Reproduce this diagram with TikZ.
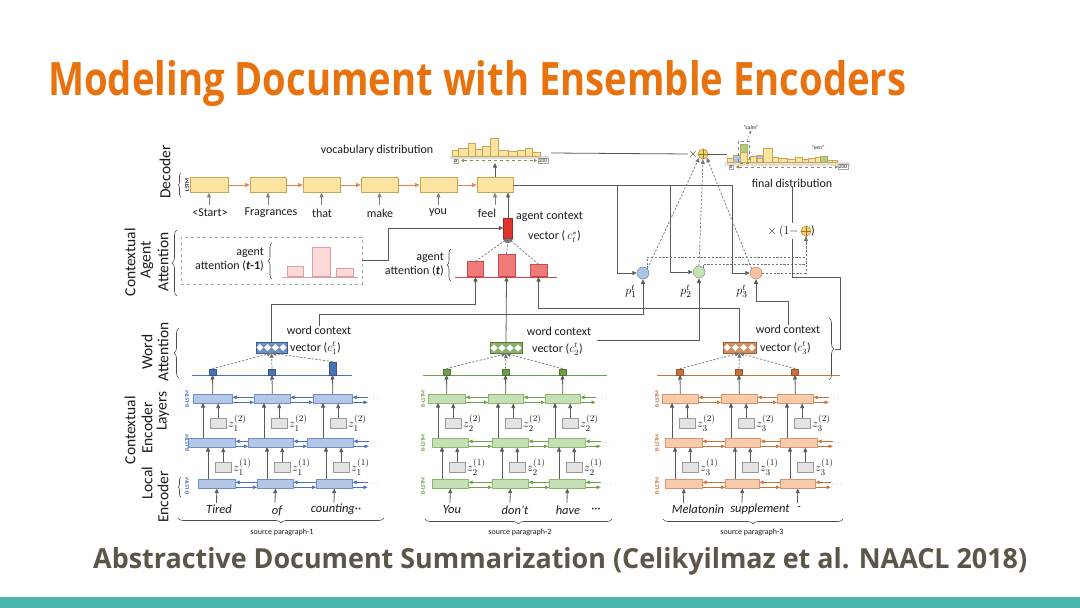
\documentclass[tikz,border=0pt]{standalone}
\usepackage{fontspec}
\setmainfont{Carlito}
\newfontfamily\titlefont{Open Sans}
\usetikzlibrary{arrows.meta,decorations.pathreplacing}
\definecolor{bfill}{HTML}{B4C7E7}\definecolor{bdark}{HTML}{4A72B8}\definecolor{bbord}{HTML}{6F8FC9}
\definecolor{gfill}{HTML}{C5E0B4}\definecolor{gdark}{HTML}{6E9E48}\definecolor{gbord}{HTML}{8DB86E}
\definecolor{ofill}{HTML}{F8CBAD}\definecolor{odark}{HTML}{C8733A}\definecolor{obord}{HTML}{D8956A}
\definecolor{yfill}{HTML}{FBE3A0}\definecolor{ybord}{HTML}{C9A550}\definecolor{plusy}{HTML}{F6D46A}
\definecolor{decor}{HTML}{E58547}
\definecolor{rbar}{HTML}{EE7A7A}\definecolor{rbord}{HTML}{C94A4A}
\definecolor{pbar}{HTML}{FBD9D9}\definecolor{pbord}{HTML}{D9A3A3}
\definecolor{agred}{HTML}{E0352E}
\definecolor{ln}{HTML}{5A5A5A}\definecolor{txt}{HTML}{1C1C1C}
\definecolor{titleor}{HTML}{E8730E}\definecolor{subcol}{HTML}{5B5647}\definecolor{tealbar}{HTML}{4DB6AC}
\definecolor{pblue}{HTML}{A9C4E8}\definecolor{pgreen}{HTML}{C5E0B4}\definecolor{porange}{HTML}{F8C3A3}
\definecolor{hblue}{HTML}{A9C4E8}\definecolor{hgreen}{HTML}{A8D08D}
\tikzset{
  conn/.style={draw=ln, line width=0.8pt},
  arr/.style={-{Triangle[length=4.5pt,width=4pt]}},
  dconn/.style={draw=ln!85, line width=0.7pt, dash pattern=on 2.2pt off 1.6pt},
  lstm/.style={draw=#1bord, fill=#1fill, line width=0.6pt, inner sep=0pt, minimum height=9, anchor=north west},
  zbox/.style={draw=gray!80, fill=gray!22, line width=0.5pt, inner sep=0pt, minimum width=16, minimum height=10, anchor=north west},
  zlab/.style={anchor=west, inner sep=0pt, font=\fontsize{13}{13}\selectfont, text=txt},
  sqr/.style={draw=#1dark!75!black, fill=#1dark, inner sep=0pt, minimum width=7, anchor=south},
  harr/.style={draw=#1dark, line width=0.7pt, -{Triangle[length=4pt,width=3.5pt]}},
  dotsn/.style={text=gray, font=\fontsize{7}{7}\selectfont, inner sep=0pt},
  blab/.style={rotate=90, text=#1dark, font=\fontsize{5.5}{6}\selectfont\bfseries, inner sep=0pt},
  lab/.style={rotate=90, font=\fontsize{15.5}{16}\selectfont, text=txt, inner sep=0pt},
  txtn/.style={font=\fontsize{12}{14}\selectfont, text=txt, inner sep=0pt},
  wordn/.style={font=\fontsize{12.5}{14}\selectfont\itshape, text=txt, inner sep=0pt},
  srcn/.style={font=\fontsize{8}{9}\selectfont, text=txt, inner sep=0pt},
  dec/.style={draw=ybord, fill=yfill, line width=0.6pt, inner sep=0pt, minimum height=15},
  decarrow/.style={draw=decor, line width=0.8pt, -{Triangle[length=4.5pt,width=4pt]}},
  brc/.style={decorate, decoration={brace, amplitude=#1}, draw=txt!80, line width=0.6pt},
  pcir/.style={circle, draw=#1!70!black, fill=#1, line width=0.5pt, minimum size=12, inner sep=0pt},
  plusc/.style={circle, draw=ybord!90!black, fill=plusy, minimum size=10, inner sep=0pt, line width=0.6pt},
  hbar/.style={draw=ybord, fill=yfill, line width=0.5pt},
  abar/.style={draw=rbord, fill=rbar, line width=0.6pt, inner sep=0pt, anchor=south},
  pbarn/.style={draw=pbord, fill=pbar, line width=0.6pt, inner sep=0pt, anchor=south},
  tinyn/.style={font=\fontsize{5.5}{6}\selectfont, text=txt, inner sep=0.6pt},
}
\newcommand{\vecicon}[5]{%
  \node[draw=#2dark!80!black, fill=#2dark!80, minimum width=#5, minimum height=11, inner sep=0pt] (#1) at (#3,#4) {};
  \foreach \ii in {1,...,4} {\fill[white] ({#3-#5/2+#5*(\ii-0.5)/4},#4) +(0,-3.6) -- +(3.6,0) -- +(0,3.6) -- +(-3.6,0) -- cycle;}
}
\newcommand{\encblock}[6]{%
  \draw[draw=#2dark, line width=0.7pt] (#4,375) -- (#5,375);
  \foreach \txl/\txr/\mxl/\mxr/\bxl/\bxr/\hh [count=\cc] in {#3} {
    \node[lstm=#2, minimum width={\txr-\txl}] (e#1T\cc) at (\txl,394) {};
    \node[lstm=#2, minimum width={\mxr-\mxl}] (e#1M\cc) at (\mxl,438) {};
    \node[lstm=#2, minimum width={\bxr-\bxl}] (e#1B\cc) at (\bxl,479) {};
    \node[zbox] (z#1a\cc) at ({\bxl+17},462) {};
    \node[zbox] (z#1b\cc) at ({\txl+17},418) {};
    \node[zlab] at ({\bxl+35},467) {$z_{#1}^{(1)}$};
    \node[zlab] at ({\txl+35},423) {$z_{#1}^{(2)}$};
    \node[sqr=#2, minimum height=\hh] (s#1\cc) at ({(\txl+\txr)/2},375) {};
    \draw[conn,arr] ({(\bxl+\bxr)/2},503) -- (e#1B\cc.south);
    \draw[conn,arr] ({\bxl+10},479) -- ({\bxl+10},447);
    \draw[conn,arr] (z#1a\cc.north) -- (z#1a\cc.north |- e#1M\cc.south);
    \draw[conn,arr] ({\txl+10},438) -- ({\txl+10},403);
    \draw[conn,arr] (z#1b\cc.north) -- (z#1b\cc.north |- e#1T\cc.south);
    \draw[conn,arr] (e#1T\cc.north) -- (s#1\cc.south);
    \draw[dconn,arr] (s#1\cc.north) -- (v#1.south);
  }
  \foreach \rw in {T,M,B} {
    \foreach \ca/\nn in {1/2,2/3} {
      \draw[harr=#2] ([yshift=1.5pt]e#1\rw\nn.west) -- ([yshift=1.5pt]e#1\rw\ca.east);
      \draw[harr=#2] ([yshift=-3.5pt]e#1\rw\ca.east) -- ([yshift=-3.5pt]e#1\rw\nn.west);
    }
    \draw[harr=#2] ([xshift=15pt,yshift=1.5pt]e#1\rw3.east) -- ([yshift=1.5pt]e#1\rw3.east);
    \draw[harr=#2] ([yshift=-3.5pt]e#1\rw3.east) -- ([xshift=15pt,yshift=-3.5pt]e#1\rw3.east);
    \node[dotsn] at ([xshift=21pt]e#1\rw3.east) {$\cdots$};
  }
  \foreach \yy in {399,443,486} {\node[blab=#2] at (#6,\yy) {B-LSTM};}
}
\begin{document}
\begin{tikzpicture}[x=1pt,y=-1pt]
\useasboundingbox (0,0) rectangle (1080,608);
\fill[white] (0,0) rectangle (1080,608);
\fill[tealbar] (0,597) rectangle (1080,608);
% titles
\node[anchor=base west, inner sep=0pt, text=titleor] (title) at (48,95) {\resizebox{858pt}{35pt}{\titlefont\bfseries Modeling Document with Ensemble Encoders}};
\node[anchor=base west, inner sep=0pt, text=subcol] (sub) at (93,568) {\resizebox{934pt}{21pt}{\titlefont\bfseries Abstractive Document Summarization (Celikyilmaz et al. NAACL 2018)}};
% left labels
\node[lab] (lDec) at (165,172) {Decoder};
\node[lab] (lCa) at (130,262) {Contextual};
\node[lab] (lAg) at (147,260) {Agent};
\node[lab] (lAt) at (163,262) {Attention};
\node[lab] (lWo) at (147,352) {Word};
\node[lab] (lWa) at (163,352) {Attention};
\node[lab] (lCe) at (130,430) {Contextual};
\node[lab] (lEn) at (147,428) {Encoder};
\node[lab] (lLa) at (163,411) {Layers};
\node[lab] (lLo) at (147,483) {Local};
\node[lab] (lEn2) at (163,497) {Encoder};
\draw[brc=3] (181,197) -- (181,173);
\node[rotate=90, font=\fontsize{5.5}{6}\selectfont\bfseries, text=txt, inner sep=0pt] (lstmL) at (187,185) {LSTM};
\draw[brc=5] (177,296) -- (177,230);
\draw[brc=5] (179,378) -- (179,328);
\draw[brc=3] (181,497) -- (181,477);
% decoder
\node[dec, minimum width=38] (d1) at (209,185) {};
\node[dec, minimum width=36] (d2) at (268,185) {};
\node[dec, minimum width=37] (d3) at (321.5,185) {};
\node[dec, minimum width=37] (d4) at (379.5,185) {};
\node[dec, minimum width=37] (d5) at (438.5,185) {};
\node[dec, minimum width=36] (d6) at (495,185) {};
\foreach \a/\b in {d1/d2,d2/d3,d3/d4,d4/d5,d5/d6} {\draw[decarrow] (\a.east) -- (\b.west);}
\node[txtn] (w1) at (210,213) {<Start>};
\node[txtn] (w2) at (271,213) {Fragrances};
\node[txtn] (w3) at (322,213) {that};
\node[txtn] (w4) at (380,213) {make};
\node[txtn] (w5) at (438,213) {you};
\node[txtn] (w6) at (487,213) {feel};
\foreach \d/\w in {d1/w1,d2/w2,d3/w3,d4/w4,d5/w5,d6/w6} {\draw[draw=gray, line width=0.8pt, arr] (\d.south |- 0,205) -- (\d.south);}
% vocabulary distribution
\node[txtn] (vd) at (377,150) {vocabulary distribution};
\fill[gray!25] (450,156) rectangle (549,159);
\foreach \x/\w/\h in {452/6/6,458/10/8,468/7/13,475/7/7,482/8/10,490/8/18,498/10/6,508/9/5,517/8/6,525/7/8,532/8/4} {\draw[hbar] (\x,156) rectangle ++(\w,-\h);}
\draw[dashed, ybord!80!black, line width=0.5pt, {Triangle[length=3pt,width=3pt]}-{Triangle[length=3pt,width=3pt]}] (461,160.5) -- (537,160.5);
\node[tinyn, draw=gray!70, fill=white] (va) at (456,161) {a};
\node[tinyn, draw=gray!70, fill=white] (v200) at (543,161) {200};
\coordinate (vhE) at (551,153);
\coordinate (vhS) at (495,163);
\draw[conn,arr] (d6.north) -- (vhS);
% final distribution
\fill[gray!25] (725,162) rectangle (850,166);
\foreach \x/\w/\h/\cl in {727/6/4/yfill,733/7/7/hblue,740/7/18/hgreen,747/3/3/yfill,750/6/6/yfill,756/7/7/hblue,763/9/14/yfill,772/6/5/yfill,778/9/4/yfill,787/8/3/yfill,795/7/5/yfill,802/6/3/yfill,808/7/4/yfill,815/5/5/yfill,820/7/6/hgreen,827/5/2/yfill,832/5/2/yfill} {\draw[hbar, fill=\cl] (\x,162) rectangle ++(\w,-\h);}
\draw[hbar] (740,162) rectangle (747,152);
\draw[hbar] (757,162) rectangle (762,158);
\draw[dashed, ybord!80!black, line width=0.5pt, {Triangle[length=3pt,width=3pt]}-{Triangle[length=3pt,width=3pt]}] (736,167) -- (838,167);
\node[tinyn, draw=gray!70, fill=white] (fa) at (731,167) {a};
\node[tinyn, draw=gray!70, fill=white] (f200) at (843,167) {200};
\draw[dashed, gray, line width=0.5pt] (738,141) rectangle (749,163);
\node[tinyn] (calm) at (751,128) {“calm”};
\draw[dconn, line width=0.5pt, -{Triangle[length=2.5pt,width=2.5pt]}] (747,141) -- (calm.south);
\node[tinyn] (yen) at (818,148) {“yen”};
\node[txtn] (fd) at (792,183) {final distribution};
% multiply circles
\node[txtn] (mxl) at (693,154) {$\times$};
\node[plusc] (mx) at (703,154) {};
\draw[ybord!70!black, line width=0.5pt] (mx.west) -- (mx.east) (mx.north) -- (mx.south);
\draw[conn] (vhE) -- (mxl.west);
\draw[conn] (mx.east) -- (727,154);
% agent attention t-1
\node[draw=gray!70, dashed, line width=0.7pt, minimum width=181, minimum height=47, inner sep=0pt] (atb) at (271.5,260.5) {};
\node[txtn, align=right, anchor=east] (atl1) at (264,260) {agent\\attention (\textbf{\textit{t}}\textbf{-1})};
\draw[brc=4] (272,279) -- (272,243);
\draw[draw=pbord, line width=0.7pt] (282,277) -- (358,277);
\node[pbarn, minimum width=16, minimum height=10] (pb1) at (295,277) {};
\node[pbarn, minimum width=18, minimum height=29] (pb2) at (321,277) {};
\node[pbarn, minimum width=17, minimum height=8] (pb3) at (344.5,277) {};
% agent attention t
\node[txtn, align=right, anchor=east] (atl) at (444,265) {agent\\attention (\textbf{\textit{t}})};
\draw[brc=4] (451,281) -- (451,249);
\draw[draw=rbord, line width=0.7pt] (455,277) -- (557,277);
\node[abar, minimum width=16, minimum height=15] (ab1) at (475.5,277) {};
\node[abar, minimum width=17, minimum height=22] (ab2) at (506.5,277) {};
\node[abar, minimum width=17, minimum height=12] (ab3) at (538.5,277) {};
\node[draw=agred!70!black, fill=agred, minimum width=9, minimum height=20, inner sep=0pt] (ag) at (508,228) {};
\node[txtn, anchor=west] (agt1) at (516,217) {agent context};
\node[txtn, anchor=west] (agt2) at (528,237) {vector ($\,c_t^{*}$)};
\draw[conn,arr] (ag.north) -- (ag.north |- d6.south);
\draw[dconn,arr] (ab1.north) -- (ag.south);
\draw[dconn,arr] (ab2.north) -- (ag.south);
\draw[dconn,arr] (ab3.north) -- (ag.south);
\draw[conn,arr] (atb.east) -- ++(26,0) |- (ag.west);
% p circles
\node[pcir=pblue] (p1) at (643,273) {};
\node[pcir=pgreen] (p2) at (699,272) {};
\node[pcir=porange] (p3) at (756,273) {};
\node[font=\fontsize{13}{13}\selectfont, inner sep=0pt] (p1l) at (631,291) {$p_1^t$};
\node[font=\fontsize{13}{13}\selectfont, inner sep=0pt] (p2l) at (686,291) {$p_2^t$};
\node[font=\fontsize{13}{13}\selectfont, inner sep=0pt] (p3l) at (742,291) {$p_3^t$};
\coordinate (j1) at (617,185);
\coordinate (j2) at (670,185);
\coordinate (j3) at (732,185);
\draw[conn] (d6.east) -- (j3);
\draw[conn,arr] (j1) |- (p1.west);
\draw[conn,arr] (j2) |- (p2.west);
\draw[conn,arr] (j3) |- (p3.west);
\draw[dconn,arr] (p1.north east) -- (mx.south west);
\draw[dconn,arr] (p2.north) -- (mx.south);
\draw[dconn,arr] (p3.north west) -- (mx.south east);
% (1-p)
\node[plusc] (omp) at (806,231) {};
\draw[ybord!70!black, line width=0.5pt] (omp.west) -- (omp.east) (omp.north) -- (omp.south);
\draw[dconn] (p1.north east) |- (omp.south |- 0,257) -- (omp.south);
\draw[dconn] (p2.north east) |- (omp.south |- 0,264) -- (omp.south);
\draw[dconn,arr] (p3.east) -- (omp.south |- p3.east) -- (omp.south);
\coordinate (b3tip) at (835,349);
\draw[conn] (fd.south) -- (fd.south |- 0,277) -- (840,277) -- (840,349) -- (b3tip);
\node[txtn, fill=white, anchor=east, inner xsep=1pt, inner ysep=2pt] (ompl) at (800,231) {$\times\,(1-$};
\node[txtn] (ompr) at (813,231) {)};
% word context vectors
\vecicon{v1}{b}{271.5}{347.5}{31}
\vecicon{v2}{g}{506}{348}{32}
\vecicon{v3}{o}{739.5}{347.5}{33}
\node[txtn] (wc1) at (319,330) {word context};
\node[txtn, anchor=west] (vc1) at (290,348) {vector ($c_1^t$)};
\node[txtn] (wc2) at (559,331) {word context};
\node[txtn, anchor=west] (vc2) at (532,349) {vector ($c_2^t$)};
\node[txtn] (wc3) at (788,329) {word context};
\node[txtn, anchor=west] (vc3) at (760,348) {vector ($c_3^t$)};
\draw[brc=5] (829,318) -- (829,380);
\coordinate (wc2e) at (597,340);
\draw[conn,arr] (v1.north) |- (ab1.south |- 0,304) -- (ab1.south);
\draw[conn,arr] (wc1.north) |- (p1.south |- 0,314) -- (p1.south);
\draw[conn,arr] (v2.north) -- (ab2.south);
\draw[conn,arr] (v3.north) |- (ab3.south |- 0,308) -- (ab3.south);
\draw[conn,arr] (wc2e) -| (p2.south);
\draw[conn,arr] (wc3.north) |- (p3.south |- 0,301) -- (p3.south);
% encoders
\encblock{1}{b}{193/232/188/235/198/235/6, 254/290/248/293/257/293/6, 313/352/307/353/316/352/13}{192}{352}{187}
\encblock{2}{g}{428/465/432/468/432/468/6, 488/523/492/528/492/528/6, 545/580/548/585/549/585/6}{423}{607}{423}
\encblock{3}{o}{662/698/665/702/665/702/6, 721/757/725/760/725/759/6, 777/813/780/817/780/815/6}{657}{840}{657}
% input words
\node[wordn] (t11) at (219,509) {Tired};
\node[wordn] (t12) at (277,511) {of};
\node[wordn] (t13) at (336,509) {counting\upshape··};
\node[wordn] (t21) at (452,510) {You};
\node[wordn] (t22) at (515,510) {don’t};
\node[wordn] (t23) at (568,510) {have};
\node[txtn] (t24) at (596,510) {···};
\node[wordn] (t31) at (698,509) {Melatonin};
\node[wordn] (t32) at (760,509) {supplement};
\node[wordn] (t33) at (799,509) {-};
\draw[brc=5] (384,518) -- (178,518);
\draw[brc=5] (612,519) -- (425,519);
\draw[brc=5] (843,519) -- (663,519);
\node[srcn] (sp1) at (282,532) {source paragraph-1};
\node[srcn] (sp2) at (520,532) {source paragraph-2};
\node[srcn] (sp3) at (752,532) {source paragraph-3};
\end{tikzpicture}
\end{document}
